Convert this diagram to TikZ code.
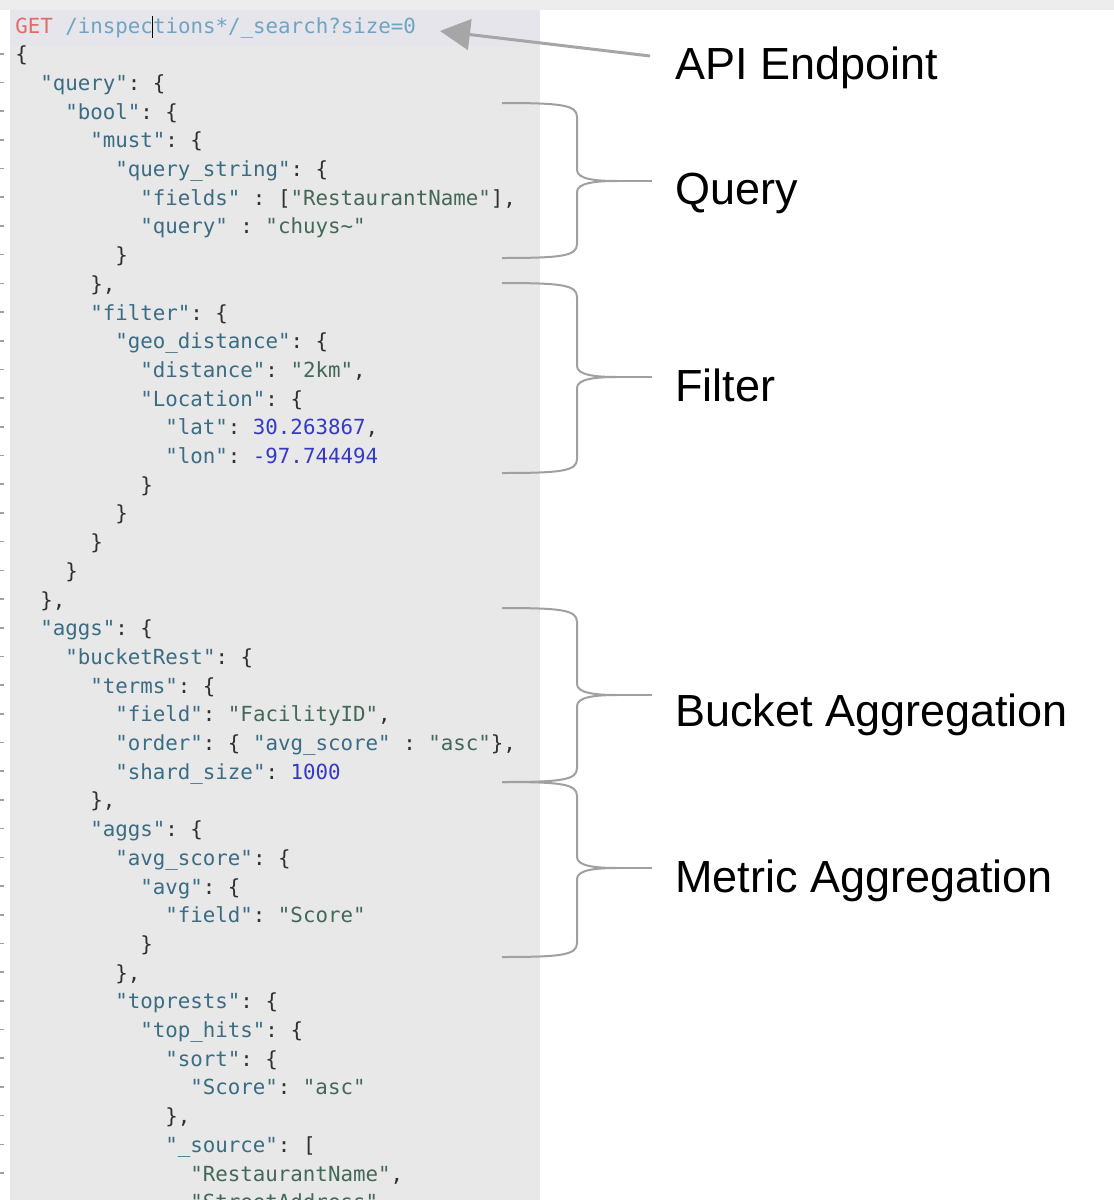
\documentclass[tikz,border=0pt]{standalone}
\usepackage{fontspec}
\setmainfont{Liberation Sans}
\setmonofont{DejaVu Sans Mono}
\usetikzlibrary{arrows.meta}

\definecolor{panel}{RGB}{232,232,232}
\definecolor{topbar}{RGB}{237,237,237}
\definecolor{activeline}{RGB}{229,229,235}
\definecolor{jsonkey}{RGB}{58,108,132}
\definecolor{jsonstr}{RGB}{66,104,88}
\definecolor{jsonnum}{RGB}{52,58,196}
\definecolor{jsonpunct}{RGB}{48,48,48}
\definecolor{getred}{RGB}{222,110,100}
\definecolor{pathblue}{RGB}{110,165,195}
\definecolor{callout}{RGB}{166,166,166}
\definecolor{bracegray}{RGB}{160,160,160}

\newcommand{\codefontsize}{\fontsize{15.6pt}{18pt}\selectfont}
\newcommand{\tagfontsize}{\fontsize{33.75pt}{40pt}\selectfont}
\newcommand{\jkey}[1]{\textcolor{jsonkey}{"#1"}}
\newcommand{\jstr}[1]{\textcolor{jsonstr}{"#1"}}
\newcommand{\jnum}[1]{\textcolor{jsonnum}{#1}}

\begin{document}
\begin{tikzpicture}[x=0.75pt,y=-0.75pt,
                code/.style={anchor=base west,inner sep=0pt,font=\codefontsize\ttfamily,text=jsonpunct},
                tag/.style={anchor=base west,inner sep=0pt,font=\tagfontsize},
                bracket/.style={draw=bracegray,line width=1.5pt},
                pointer/.style={draw=callout,line width=2.25pt,-{Triangle[length=22.5pt,width=23pt]}}]
  \useasboundingbox (0,0) rectangle (1114,1200);
  \fill[white] (0,0) rectangle (1114,1200);
  \fill[topbar] (0,0) rectangle (1114,10);
  \fill[panel] (10,10) rectangle (540,1200);
  \fill[activeline] (10,10) rectangle (540,46);
  \foreach \i in {1,...,41}
    \draw[bracegray,line width=1.2pt] (0,25+28.7*\i) -- (4,25+28.7*\i);

  % request body
  \node[code] (l0)  at (15,33)     {\textcolor{getred}{GET} \textcolor{pathblue}{/inspections*/\_search?size=0}};
  \node[code] (l1)  at (15,61.7)   {\{};
  \node[code] (l2)  at (40,90.4)   {\jkey{query}: \{};
  \node[code] (l3)  at (65,119.1)  {\jkey{bool}: \{};
  \node[code] (l4)  at (90,147.8)  {\jkey{must}: \{};
  \node[code] (l5)  at (115,176.5) {\jkey{query\_string}: \{};
  \node[code] (l6)  at (140,205.2) {\jkey{fields} : [\jstr{RestaurantName}],};
  \node[code] (l7)  at (140,233.9) {\jkey{query} : \jstr{chuys\textasciitilde}};
  \node[code] (l8)  at (115,262.6) {\}};
  \node[code] (l9)  at (90,291.3)  {\},};
  \node[code] (l10) at (90,320)    {\jkey{filter}: \{};
  \node[code] (l11) at (115,348.7) {\jkey{geo\_distance}: \{};
  \node[code] (l12) at (140,377.4) {\jkey{distance}: \jstr{2km},};
  \node[code] (l13) at (140,406.1) {\jkey{Location}: \{};
  \node[code] (l14) at (165,434.8) {\jkey{lat}: \jnum{30.263867},};
  \node[code] (l15) at (165,463.5) {\jkey{lon}: \jnum{-97.744494}};
  \node[code] (l16) at (140,492.2) {\}};
  \node[code] (l17) at (115,520.9) {\}};
  \node[code] (l18) at (90,549.6)  {\}};
  \node[code] (l19) at (65,578.3)  {\}};
  \node[code] (l20) at (40,607)    {\},};
  \node[code] (l21) at (40,635.7)  {\jkey{aggs}: \{};
  \node[code] (l22) at (65,664.4)  {\jkey{bucketRest}: \{};
  \node[code] (l23) at (90,693.1)  {\jkey{terms}: \{};
  \node[code] (l24) at (115,721.8) {\jkey{field}: \jstr{FacilityID},};
  \node[code] (l25) at (115,750.5) {\jkey{order}: \{ \jkey{avg\_score} : \jstr{asc}\},};
  \node[code] (l26) at (115,779.2) {\jkey{shard\_size}: \jnum{1000}};
  \node[code] (l27) at (90,807.9)  {\},};
  \node[code] (l28) at (90,836.6)  {\jkey{aggs}: \{};
  \node[code] (l29) at (115,865.3) {\jkey{avg\_score}: \{};
  \node[code] (l30) at (140,894)   {\jkey{avg}: \{};
  \node[code] (l31) at (165,922.7) {\jkey{field}: \jstr{Score}};
  \node[code] (l32) at (140,951.4) {\}};
  \node[code] (l33) at (115,980.1) {\},};
  \node[code] (l34) at (115,1008.8) {\jkey{toprests}: \{};
  \node[code] (l35) at (140,1037.5) {\jkey{top\_hits}: \{};
  \node[code] (l36) at (165,1066.2) {\jkey{sort}: \{};
  \node[code] (l37) at (190,1094.9) {\jkey{Score}: \jstr{asc}};
  \node[code] (l38) at (165,1123.6) {\},};
  \node[code] (l39) at (165,1152.3) {\jkey{\_source}: [};
  \node[code] (l40) at (190,1181)   {\jstr{RestaurantName},};
  \node[code] (l41) at (190,1209.7) {\jstr{StreetAddress},};
  \draw[black,line width=1pt] (152.5,16) -- (152.5,38);

  % callouts
  \node[tag] (api)    at (675,79)  {API Endpoint};
  \node[tag] (query)  at (675,204) {Query};
  \node[tag] (filter) at (675,401) {Filter};
  \node[tag] (bucket) at (675,726) {Bucket Aggregation};
  \node[tag] (metric) at (675,892) {Metric Aggregation};

  \coordinate (apitail) at (650,56);
  \coordinate (apihead) at (440,31);
  \draw[pointer] (apitail) -- (apihead);

  \foreach \t/\m/\b/\n in {103/181/258/query, 283/377/473/filter, 608/695/782/bucket, 782/868/957/metric} {
    \coordinate (\n tip) at (617,\m);
    \draw[bracket] (502,\t) .. controls (562,\t) and (577,\t+2) .. (577,\t+14) -- (577,\m-11)
      .. controls (577,\m-2) and (595,\m) .. (\n tip)
      .. controls (595,\m) and (577,\m+2) .. (577,\m+11) -- (577,\b-14)
      .. controls (577,\b-2) and (562,\b) .. (502,\b);
    \draw[bracket,shorten >=17pt] (\n tip) -- (\n tip -| \n.west);
  }
\end{tikzpicture}
\end{document}
